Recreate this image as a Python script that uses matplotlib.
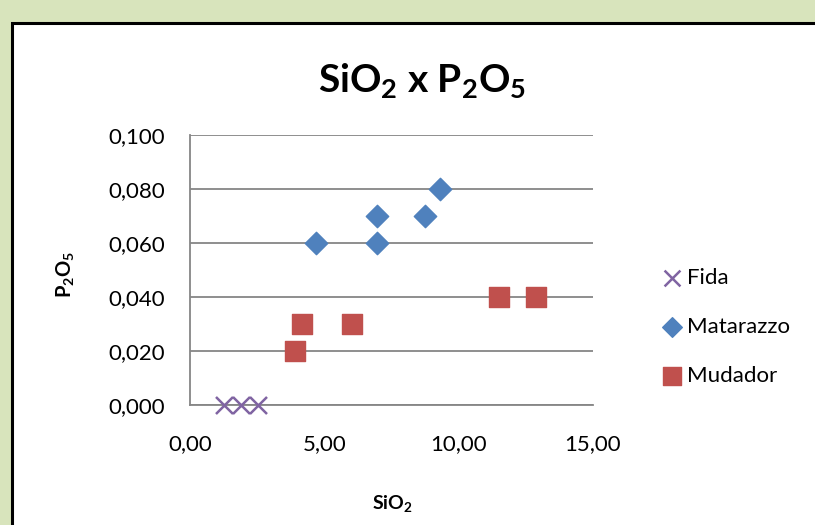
import matplotlib.pyplot as plt
from matplotlib.patches import Rectangle
from matplotlib.ticker import FuncFormatter

plt.rcParams['font.family'] = ['Lato', 'DejaVu Sans']
plt.rcParams['mathtext.default'] = 'regular'

# data
fida_x = [1.27, 1.90, 2.53]
fida_y = [0.000, 0.000, 0.000]

mata_x = [4.69, 6.96, 6.96, 8.75, 9.30]
mata_y = [0.060, 0.070, 0.060, 0.070, 0.080]

muda_x = [3.91, 4.17, 6.03, 11.50, 12.88]
muda_y = [0.020, 0.030, 0.030, 0.040, 0.040]

x_ticks = [0, 5, 10, 15]
y_ticks = [0.0, 0.02, 0.04, 0.06, 0.08, 0.10]

fig = plt.figure(figsize=(8.15, 5.25), dpi=100, facecolor='#d8e4bc')
# white chart panel with dark border
fig.patches.append(Rectangle((12 / 815, -0.1), 1.0, 1 - 23 / 525 + 0.1,
                             transform=fig.transFigure, facecolor='white',
                             edgecolor='black', linewidth=2.2, zorder=-5))

ax = fig.add_axes([190 / 815, 1 - 405 / 525, 403 / 815, 270 / 525])
ax.set_facecolor('none')
ax.set_zorder(2)

ax.scatter(fida_x, fida_y, marker='x', s=150, color='#8064a2', linewidths=1.8,
           label='Fida', zorder=3, clip_on=False)
ax.scatter(mata_x, mata_y, marker='D', s=130, color='#4f81bd',
           label='Matarazzo', zorder=3, clip_on=False)
ax.scatter(muda_x, muda_y, marker='s', s=200, color='#c0504d',
           label='Mudador', zorder=3, clip_on=False)

ax.set_xlim(0, 15)
ax.set_ylim(0, 0.1)
ax.set_xticks(x_ticks)
ax.set_yticks(y_ticks)
ax.xaxis.set_major_formatter(FuncFormatter(lambda v, p: f'{v:.2f}'.replace('.', ',')))
ax.yaxis.set_major_formatter(FuncFormatter(lambda v, p: f'{v:.3f}'.replace('.', ',')))
ax.tick_params(length=0, labelsize=16, colors='black')
ax.tick_params(axis='x', pad=21)
ax.tick_params(axis='y', pad=18)

ax.grid(axis='y', color='#868686', linewidth=1.3)
ax.set_axisbelow(True)
for s in ['top', 'right']:
    ax.spines[s].set_visible(False)
for s in ['left', 'bottom']:
    ax.spines[s].set_color('#868686')
    ax.spines[s].set_linewidth(1.3)

fig.text(422 / 815, 1 - 80 / 525, 'SiO$_2$ x P$_2$O$_5$', ha='center', va='center',
         fontsize=28, fontweight='bold')
fig.text(392 / 815, 1 - 503 / 525, 'SiO$_2$', ha='center', va='center',
         fontsize=14, fontweight='bold')
fig.text(66 / 815, 1 - 274 / 525, 'P$_2$O$_5$', ha='center', va='center',
         fontsize=14.5, fontweight='bold', rotation=90)

leg = ax.legend(loc='center left', bbox_to_anchor=(1.146, 0.289), frameon=False,
                fontsize=16, handletextpad=0.2, labelspacing=1.32,
                handlelength=1.0, borderaxespad=0)
leg.legend_handles[0].set_sizes([130])
leg.legend_handles[1].set_sizes([100])
leg.legend_handles[2].set_sizes([170])

fig.savefig('out.png', dpi=100, facecolor=fig.get_facecolor())
